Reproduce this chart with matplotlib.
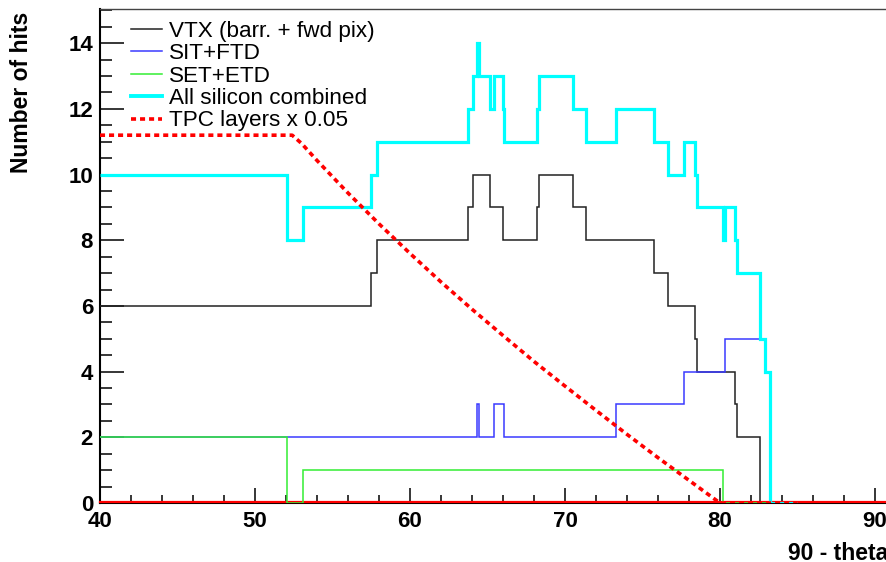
import matplotlib
matplotlib.use("Agg")
import matplotlib.pyplot as plt
import matplotlib.transforms as mtransforms
from matplotlib.lines import Line2D
from matplotlib.ticker import MultipleLocator

# ---- data ----
# segment edges in (90 - theta) [deg]
edges = [40.0, 52.06, 53.08, 57.50, 57.85, 63.74, 64.04, 64.30, 64.42, 65.16,
         65.42, 65.97, 66.06, 68.17, 68.30, 70.50, 71.35, 73.29, 75.74, 76.65,
         77.70, 78.39, 78.50, 80.17, 80.30, 80.97, 81.10, 82.60, 82.90, 83.20,
         85.00]
vtx_hits = [6, 6, 6, 7, 8, 9, 10, 10, 10, 9, 9, 8, 8, 9, 10, 9, 8, 8, 7, 6,
            6, 5, 4, 4, 4, 3, 2, 0, 0, 0]
sit_ftd_hits = [2, 2, 2, 2, 2, 2, 2, 3, 2, 2, 3, 3, 2, 2, 2, 2, 2, 3, 3, 3,
                4, 4, 4, 4, 5, 5, 5, 5, 4, 0]
set_etd_hits = [2, 0, 1, 1, 1, 1, 1, 1, 1, 1, 1, 1, 1, 1, 1, 1, 1, 1, 1, 1,
                1, 1, 1, 0, 0, 0, 0, 0, 0, 0]
all_si_hits = [10, 8, 9, 10, 11, 12, 13, 14, 13, 12, 13, 12, 11, 12, 13, 12,
               11, 12, 11, 10, 11, 10, 9, 8, 9, 8, 7, 5, 4, 0]

tpc_angle = [40, 52.4, 53.0, 54, 56, 58, 60, 62, 64, 66, 68, 70, 72, 74, 76,
             78, 80, 85]
tpc_hits = [11.2, 11.2, 10.95, 10.43, 9.44, 8.50, 7.60, 6.73, 5.90, 5.10, 4.31,
            3.56, 2.82, 2.09, 1.38, 0.69, 0.0, 0.0]

labels = ["VTX (barr. + fwd pix)", "SIT+FTD", "SET+ETD",
          "All silicon combined", "TPC layers x 0.05"]

# ---- figure ----
W, H, DPI = 887, 562, 100
plt.rcParams["font.family"] = ["Liberation Sans", "DejaVu Sans"]
fig = plt.figure(figsize=(W / DPI, H / DPI), dpi=DPI)

def fx(px):
    return px / W

def fy(py):
    return 1 - py / H

ax = fig.add_axes([fx(100), fy(503), fx(887) - fx(100), fy(9) - fy(503)])
xmin, xmax = 40, 40 + 787 / 15.5
ax.set_xlim(xmin, xmax)
ax.set_ylim(0, 494 / 32.84)

# red base line at zero (slightly above the axis line)
off = mtransforms.ScaledTranslation(0, 1.3 / DPI, fig.dpi_scale_trans)
ax.plot([xmin, xmax], [0, 0], color="#ff0000", lw=1.6,
        transform=ax.transData + off, zorder=2.6, clip_on=False)

c_vtx, c_sit, c_set, c_all, c_tpc = "#222222", "#3a3aff", "#33ee33", "#00ffff", "#ff0000"

ax.stairs(vtx_hits, edges, baseline=None, color=c_vtx, lw=1.1, zorder=3)
ax.stairs(sit_ftd_hits, edges, baseline=None, color=c_sit, lw=1.1, zorder=3.1)
ax.stairs(set_etd_hits, edges, baseline=None, color=c_set, lw=1.1, zorder=3.2)
ax.stairs(all_si_hits, edges, baseline=None, color=c_all, lw=2.3, zorder=3.3)
ax.plot(tpc_angle, tpc_hits, color=c_tpc, lw=2.6, dashes=(1.4, 1.1),
        zorder=3.4)

# spines
for s in ["left", "bottom"]:
    ax.spines[s].set_linewidth(1.5)
    ax.spines[s].set_color("black")
ax.spines["top"].set_linewidth(1.0)
ax.spines["top"].set_color("#444444")
ax.spines["right"].set_visible(False)

# ticks (ROOT style, inside)
ax.xaxis.set_major_locator(MultipleLocator(10))
ax.xaxis.set_minor_locator(MultipleLocator(2))
ax.yaxis.set_major_locator(MultipleLocator(2))
ax.yaxis.set_minor_locator(MultipleLocator(0.5))
ax.tick_params(axis="x", which="major", direction="in", length=11, width=1.1,
               pad=5.5, labelsize=16)
ax.tick_params(axis="x", which="minor", direction="in", length=5.8, width=1.1)
ax.tick_params(axis="y", which="major", direction="in", length=17, width=1.1,
               pad=5, labelsize=16)
ax.tick_params(axis="y", which="minor", direction="in", length=8.8, width=1.1)
ax.tick_params(top=False, right=False, which="both")
for lab in ax.get_xticklabels() + ax.get_yticklabels():
    lab.set_fontweight("bold")

# axis titles
fig.text(fx(22), fy(12), "Number of hits", rotation=90, ha="center", va="top",
         fontsize=16.5, fontweight="bold")
fig.text(fx(788), fy(560), "90 - theta", ha="left", va="baseline",
         fontsize=16.5, fontweight="bold")

# legend
handles = [
    Line2D([], [], color=c_vtx, lw=1.1),
    Line2D([], [], color=c_sit, lw=1.1),
    Line2D([], [], color=c_set, lw=1.1),
    Line2D([], [], color=c_all, lw=2.8),
    Line2D([], [], color=c_tpc, lw=2.6, dashes=(1.4, 1.1)),
]
ax.legend(handles, labels, loc="upper left",
          bbox_to_anchor=(fx(131), fy(21)), bbox_transform=fig.transFigure,
          frameon=False, fontsize=16.2, borderpad=0, borderaxespad=0,
          handlelength=1.38, handletextpad=0.3, labelspacing=0.06)

fig.savefig("out.png", dpi=DPI)
